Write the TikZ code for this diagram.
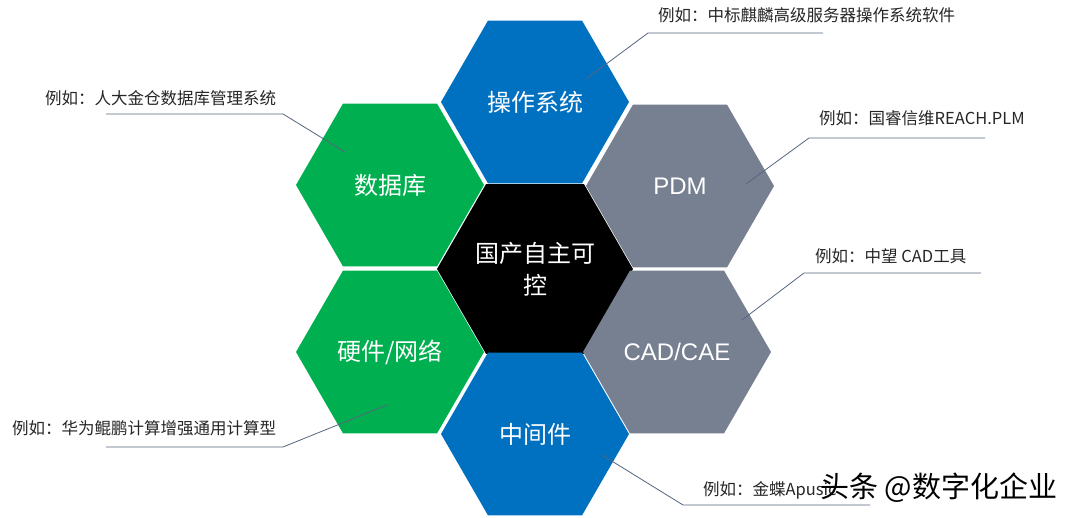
\documentclass[tikz,border=0pt]{standalone}
\usepackage{fontspec}
\setmainfont{Liberation Sans}
\newfontfamily\cjk{Noto Sans CJK SC}
\usetikzlibrary{shapes.geometric}
\definecolor{hexblue}{HTML}{0070C0}
\definecolor{hexgreen}{HTML}{00B050}
\definecolor{hexgray}{HTML}{768091}
\definecolor{leader}{HTML}{56667F}
\definecolor{notetext}{HTML}{262626}
\begin{document}
\begin{tikzpicture}[x=1pt,y=1pt,
  hexa/.style={regular polygon, regular polygon sides=6, minimum size=188pt,
    inner sep=0pt, outer sep=0pt, text=white, align=center,
    font=\fontsize{24}{32}\selectfont},
  note/.style={anchor=west, inner sep=0pt, text=notetext,
    font=\cjk\fontsize{16.5}{18}\selectfont},
  lead/.style={draw=leader, line width=0.8pt}]
\fill[white] (0,0) rectangle (1080,518);
\useasboundingbox (0,0) rectangle (1080,518);

% hexagons
\node[hexa, fill=hexblue]  (T)  at (535,416) {\cjk 操作系统};
\node[hexa, fill=black]    (C)  at (535,249) {\cjk 国产自主可\\\cjk 控};
\node[hexa, fill=hexgreen] (LT) at (390,333) {\cjk 数据库};
\node[hexa, fill=hexgreen] (LB) at (390,166) {\cjk 硬件/网络};
\node[hexa, fill=hexgray]  (RT) at (680,332) {PDM};
\node[hexa, fill=hexgray]  (RB) at (677,166) {CAD/CAE};
\node[hexa, fill=hexblue]  (B)  at (535,84)  {\cjk 中间件};

% leader end points inside hexagons
\coordinate (eT)  at (586,439);
\coordinate (eLT) at (345,366);
\coordinate (eRT) at (746,334);
\coordinate (eRB) at (742,198);
\coordinate (eLB) at (387,113);
\coordinate (eB)  at (602,63);

% corners and ends of leaders
\coordinate (kT)  at (648,485); \coordinate (hT)  at (823,485);
\coordinate (kLT) at (283,404); \coordinate (hLT) at (106,404);
\coordinate (kRT) at (809,380); \coordinate (hRT) at (985,380);
\coordinate (kRB) at (804,245); \coordinate (hRB) at (981,245);
\coordinate (kLB) at (283,71);  \coordinate (hLB) at (106,71);
\coordinate (kB)  at (683,13);  \coordinate (hB)  at (870,13);

\draw[lead] (eT) -- (kT) -- (hT);
\draw[lead] (eLT) -- (kLT) -- (hLT);
\draw[lead] (eRT) -- (kRT) -- (hRT);
\draw[lead] (eRB) -- (kRB) -- (hRB);
\draw[lead] (eLB) -- (kLB) -- (hLB);
\draw[lead] (eB) -- (kB) -- (hB);

% notes
\node[note] (nT)  at (658,503) {例如：中标麒麟高级服务器操作系统软件};
\node[note] (nLT) at (45,420)  {例如：人大金仓数据库管理系统};
\node[note] (nRT) at (819,400) {例如：国睿信维REACH.PLM};
\node[note] (nRB) at (815,262) {例如：中望 CAD工具};
\node[note] (nLB) at (12,90)   {例如：华为鲲鹏计算增强通用计算型};
\node[note] (nB)  at (703,28)  {例如：金蝶Apusic};

% watermark
\node[anchor=west, inner sep=0pt, text=black, font=\cjk\fontsize{29}{31}\selectfont]
  (wm) at (820,30) {头条 @数字化企业};
\end{tikzpicture}
\end{document}
